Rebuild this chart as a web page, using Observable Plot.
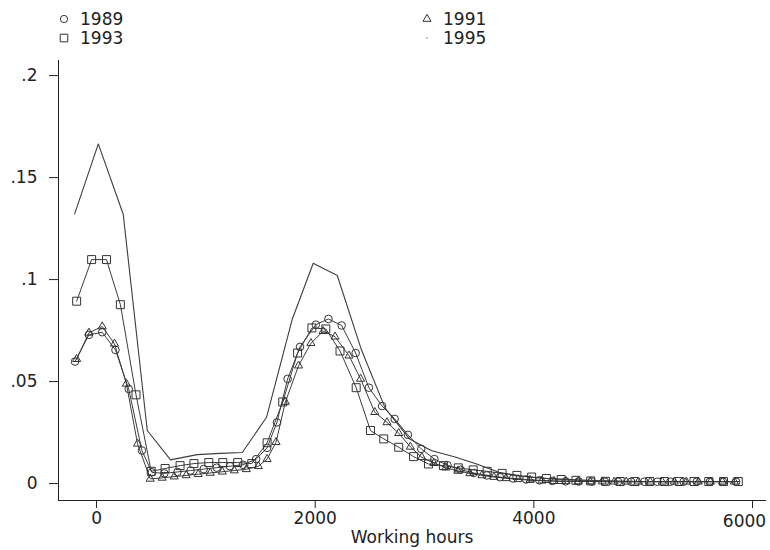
<!DOCTYPE html>
<html><head><meta charset="utf-8">
<script src="https://cdn.jsdelivr.net/npm/d3@7"></script>
<script src="https://cdn.jsdelivr.net/npm/@observablehq/plot@0.6"></script>
<style>
body{margin:0;background:#fff;font-family:"DejaVu Sans",sans-serif;color:#222}
#legend{position:relative;height:50px;width:770px;font-size:17px}
.sym{position:absolute}
.lab{position:absolute;line-height:18px}
</style></head><body>
<div id="legend"></div>
<div id="chart"></div>
<script>
const years = ["1989", "1991", "1993", "1995"];
const xTicks = [0, 2000, 4000, 6000];
const yTicks = [0, 0.05, 0.1, 0.15, 0.2];

const hours1989 = [-197, -70, 52, 173, 294, 415, 506, 620, 740, 860, 980, 1100, 1220, 1340, 1460, 1560, 1650, 1748, 1861, 2006, 2121, 2242, 2370, 2491, 2612, 2727, 2848, 2970, 3090, 3210, 3330, 3450, 3570, 3690, 3810, 3930, 4050, 4170, 4290, 4410, 4530, 4650, 4770, 4890, 5010, 5130, 5250, 5370, 5490, 5610, 5730, 5850];
const share1989 = [.0598, .0729, .0742, .0655, .0464, .0162, .0055, .0050, .0057, .0064, .0071, .0078, .0085, .0092, .0120, .0175, .0300, .0513, .0670, .0779, .0807, .0775, .0640, .0470, .0380, .0317, .0239, .0170, .0120, .0090, .0068, .0052, .0040, .0031, .0025, .0020, .0016, .0013, .0011, .0010, .0010, .0009, .0009, .0009, .0009, .0009, .0009, .0009, .0009, .0009, .0009, .0009];

const hours1991 = [-182, -70, 52, 164, 273, 375, 491, 600, 710, 820, 930, 1040, 1150, 1260, 1370, 1480, 1560, 1642, 1727, 1848, 1961, 2073, 2182, 2309, 2415, 2545, 2657, 2764, 2870, 2975, 3085, 3195, 3305, 3415, 3525, 3635, 3745, 3855, 3965, 4075, 4185, 4295, 4405, 4515, 4625, 4735, 4845, 4955, 5065, 5175, 5285, 5395, 5505, 5615, 5725, 5835];
const share1991 = [.0610, .0739, .0770, .0685, .0489, .0195, .0023, .0028, .0034, .0040, .0046, .0052, .0058, .0064, .0070, .0085, .0120, .0203, .0400, .0578, .0688, .0747, .0720, .0627, .0513, .0350, .0300, .0247, .0180, .0129, .0100, .0078, .0062, .0050, .0040, .0032, .0026, .0021, .0017, .0014, .0012, .0011, .0010, .0010, .0010, .0009, .0009, .0009, .0009, .0009, .0009, .0009, .0009, .0009, .0009, .0009];

const hours1993 = [-182, -45, 91, 218, 361, 500, 627, 764, 891, 1027, 1155, 1291, 1420, 1560, 1703, 1839, 1970, 2097, 2227, 2375, 2506, 2627, 2764, 2900, 3036, 3173, 3309, 3445, 3573, 3710, 3845, 3980, 4115, 4250, 4385, 4520, 4655, 4790, 4925, 5060, 5195, 5330, 5465, 5600, 5735, 5870];
const share1993 = [.0894, .1098, .1098, .0877, .0435, .0060, .0074, .0088, .0098, .0103, .0103, .0103, .0098, .0200, .0400, .0640, .0763, .0758, .0650, .0470, .0260, .0219, .0178, .0132, .0096, .0088, .0077, .0067, .0060, .0050, .0040, .0032, .0025, .0020, .0016, .0013, .0011, .0010, .0010, .0010, .0010, .0010, .0010, .0010, .0010, .0010];

const hours1995 = [-200, 16, 244, 464, 677, 921, 1130, 1333, 1555, 1791, 1982, 2202, 2420, 2640, 2860, 3060, 3280, 3470, 3680, 3900, 4120, 4340, 4560, 4780, 5000, 5220, 5440, 5660, 5880];
const share1995 = [.1322, .1665, .1320, .0260, .0116, .0142, .0148, .0152, .0325, .0807, .1080, .1020, .0660, .0370, .0220, .0162, .0130, .0097, .0055, .0035, .0025, .0020, .0015, .0012, .0010, .0010, .0010, .0010, .0010];

const toRows = (hs, vs) => hs.map((h, i) => ({h, v: vs[i]}));
const d1989 = toRows(hours1989, share1989);
const d1991 = toRows(hours1991, share1991);
const d1993 = toRows(hours1993, share1993);
const d1995 = toRows(hours1995, share1995);

const ink = "#333";
const lineInk = "#3c3c3c";
const fmtX = d3.format("d");
const lastTick = xTicks[xTicks.length - 1];

// legend (2 x 2 grid)
const legendItems = [
  {label: years[0], sym: "circle", r: 3.6, x: 64, y: 19},
  {label: years[1], sym: "triangle", r: 3, x: 427, y: 19},
  {label: years[2], sym: "square", r: 4.3, x: 64, y: 38},
  {label: years[3], sym: "dot", r: 0.8, x: 427, y: 38}
];
const leg = d3.select("#legend");
const symMap = {circle: d3.symbolCircle, triangle: d3.symbolTriangle, square: d3.symbolSquare};
for (const it of legendItems) {
  const s = leg.append("svg").attr("class", "sym").attr("width", 14).attr("height", 14)
    .style("left", (it.x - 7) + "px").style("top", (it.y - 7) + "px");
  if (it.sym === "dot") {
    s.append("circle").attr("cx", 7).attr("cy", 7).attr("r", it.r).attr("fill", "#888");
  } else {
    s.append("path").attr("transform", "translate(7,7)")
      .attr("d", d3.symbol(symMap[it.sym], Math.PI * it.r * it.r)())
      .attr("fill", "none").attr("stroke", ink).attr("stroke-width", 1);
  }
  leg.append("div").attr("class", "lab").style("left", (it.x + 16) + "px")
    .style("top", (it.y - 9) + "px").text(it.label);
}

const chart = Plot.plot({
  width: 770,
  height: 500,
  marginLeft: 58,
  marginRight: 5,
  marginTop: 10,
  marginBottom: 50,
  style: {fontFamily: "DejaVu Sans", fontSize: "17px", color: "#222", background: "white"},
  x: {domain: [-348, 6119], ticks: xTicks, tickSize: 8, tickPadding: 3, line: true,
      tickFormat: d => d === lastTick ? "" : fmtX(d),
      label: "Working hours", labelAnchor: "center", labelArrow: "none", labelOffset: 42},
  y: {domain: [-0.0083, 0.2074], ticks: yTicks, tickSize: 9, tickPadding: 12, line: true, label: null,
      tickFormat: d => d === 0 ? "0" : d3.format("~g")(d).replace(/^0\./, ".")},
  marks: [
    Plot.line(d1995, {x: "h", y: "v", stroke: lineInk, strokeWidth: 1.1}),
    Plot.line(d1993, {x: "h", y: "v", stroke: lineInk, strokeWidth: 1}),
    Plot.line(d1991, {x: "h", y: "v", stroke: lineInk, strokeWidth: 1}),
    Plot.line(d1989, {x: "h", y: "v", stroke: lineInk, strokeWidth: 1}),
    Plot.dot(d1993, {x: "h", y: "v", symbol: "square", r: 4.5, stroke: ink, fill: "none", strokeWidth: 1}),
    Plot.dot(d1991, {x: "h", y: "v", symbol: "triangle", r: 3, stroke: ink, fill: "none", strokeWidth: 1}),
    Plot.dot(d1989, {x: "h", y: "v", symbol: "circle", r: 3.8, stroke: ink, fill: "none", strokeWidth: 1}),
    Plot.text([lastTick], {x: d => d, text: d => fmtX(d), frameAnchor: "bottom", dy: 21, dx: -8,
      fontSize: 17, fill: "#222", lineAnchor: "middle"})
  ]
});
document.getElementById("chart").appendChild(chart);
</script>
</body></html>
